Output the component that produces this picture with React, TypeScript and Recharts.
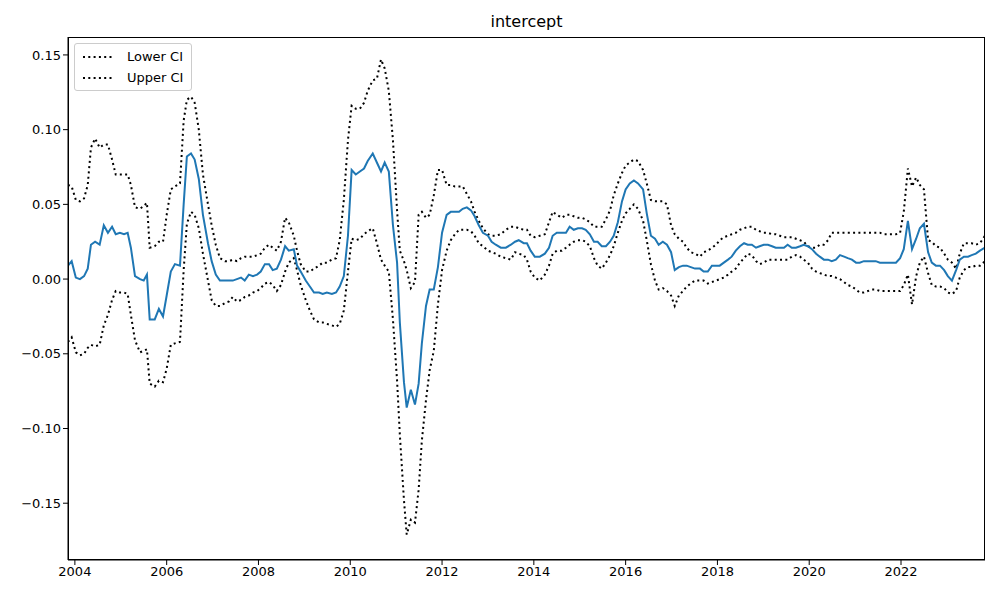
import { LineChart, Line, XAxis, YAxis } from 'recharts';

const dates = [
  2003.85, 2003.93, 2004.02, 2004.11, 2004.2, 2004.28, 2004.35, 2004.44, 2004.54, 2004.63,
  2004.72, 2004.81, 2004.89, 2004.98, 2005.07, 2005.15, 2005.22, 2005.31, 2005.42, 2005.5,
  2005.57, 2005.63, 2005.74, 2005.83, 2005.92, 2006.0, 2006.09, 2006.18, 2006.29, 2006.37,
  2006.44, 2006.53, 2006.61, 2006.7, 2006.79, 2006.9, 2006.98, 2007.07, 2007.16, 2007.27,
  2007.36, 2007.44, 2007.53, 2007.62, 2007.7, 2007.79, 2007.88, 2007.97, 2008.05, 2008.14,
  2008.23, 2008.31, 2008.4, 2008.49, 2008.58, 2008.66, 2008.77, 2008.84, 2008.92, 2009.03,
  2009.12, 2009.21, 2009.32, 2009.4, 2009.49, 2009.6, 2009.69, 2009.77, 2009.86, 2009.95,
  2010.03, 2010.12, 2010.21, 2010.3, 2010.38, 2010.49, 2010.58, 2010.67, 2010.75, 2010.84,
  2010.93, 2011.02, 2011.08, 2011.17, 2011.23, 2011.32, 2011.41, 2011.49, 2011.56, 2011.65,
  2011.73, 2011.82, 2011.91, 2012.0, 2012.1, 2012.19, 2012.28, 2012.37, 2012.45, 2012.54,
  2012.63, 2012.71, 2012.8, 2012.89, 2013.0, 2013.08, 2013.17, 2013.28, 2013.39, 2013.5,
  2013.59, 2013.67, 2013.78, 2013.85, 2013.93, 2014.02, 2014.13, 2014.24, 2014.33, 2014.41,
  2014.5, 2014.61, 2014.7, 2014.78, 2014.87, 2014.96, 2015.05, 2015.13, 2015.22, 2015.31,
  2015.39, 2015.48, 2015.57, 2015.66, 2015.74, 2015.83, 2015.92, 2016.0, 2016.09, 2016.18,
  2016.27, 2016.38, 2016.46, 2016.55, 2016.64, 2016.72, 2016.81, 2016.9, 2016.99, 2017.07,
  2017.16, 2017.25, 2017.33, 2017.42, 2017.51, 2017.62, 2017.7, 2017.79, 2017.88, 2017.97,
  2018.05, 2018.14, 2018.23, 2018.31, 2018.4, 2018.49, 2018.58, 2018.66, 2018.75, 2018.84,
  2018.92, 2019.01, 2019.1, 2019.19, 2019.27, 2019.36, 2019.45, 2019.53, 2019.62, 2019.71,
  2019.8, 2019.88, 2019.97, 2020.06, 2020.15, 2020.23, 2020.32, 2020.41, 2020.49, 2020.58,
  2020.67, 2020.76, 2020.84, 2020.93, 2021.02, 2021.1, 2021.19, 2021.28, 2021.37, 2021.45,
  2021.54, 2021.63, 2021.71, 2021.8, 2021.89, 2021.98, 2022.06, 2022.15, 2022.24, 2022.33,
  2022.41, 2022.5, 2022.59, 2022.67, 2022.76, 2022.85, 2022.94, 2023.02, 2023.11, 2023.2,
  2023.28, 2023.37, 2023.46, 2023.54, 2023.63, 2023.72, 2023.83,
];

const estimate = [
  0.009, 0.012, 0.001, 0, 0.002, 0.007, 0.023, 0.025, 0.023, 0.036,
  0.031, 0.035, 0.03, 0.031, 0.03, 0.031, 0.021, 0.002, 0, -0.001,
  0.003, -0.027, -0.027, -0.02, -0.025, -0.011, 0.005, 0.01, 0.009, 0.05,
  0.082, 0.084, 0.08, 0.067, 0.043, 0.024, 0.012, 0.003, -0.001, -0.001,
  -0.001, -0.001, 0, 0.001, -0.001, 0.003, 0.002, 0.003, 0.005, 0.01,
  0.01, 0.006, 0.007, 0.013, 0.022, 0.019, 0.02, 0.009, 0.005, -0.001,
  -0.005, -0.009, -0.009, -0.01, -0.009, -0.01, -0.009, -0.005, 0.002, 0.029,
  0.073, 0.07, 0.072, 0.074, 0.079, 0.084, 0.078, 0.072, 0.078, 0.072,
  0.036, 0.011, -0.029, -0.069, -0.086, -0.074, -0.084, -0.07, -0.043, -0.018,
  -0.007, -0.007, 0.008, 0.031, 0.043, 0.045, 0.045, 0.045, 0.047, 0.048,
  0.046, 0.042, 0.036, 0.031, 0.029, 0.025, 0.023, 0.021, 0.021, 0.023,
  0.025, 0.026, 0.024, 0.024, 0.019, 0.015, 0.015, 0.017, 0.021, 0.029,
  0.031, 0.031, 0.031, 0.035, 0.033, 0.034, 0.034, 0.033, 0.03, 0.025,
  0.025, 0.022, 0.022, 0.025, 0.029, 0.038, 0.052, 0.06, 0.064, 0.066,
  0.064, 0.06, 0.044, 0.029, 0.027, 0.023, 0.025, 0.023, 0.018, 0.006,
  0.008, 0.009, 0.009, 0.008, 0.007, 0.007, 0.005, 0.005, 0.009, 0.009,
  0.009, 0.011, 0.013, 0.015, 0.019, 0.022, 0.024, 0.023, 0.023, 0.021,
  0.022, 0.023, 0.023, 0.022, 0.021, 0.021, 0.021, 0.023, 0.021, 0.021,
  0.022, 0.023, 0.022, 0.02, 0.017, 0.015, 0.013, 0.013, 0.012, 0.013,
  0.016, 0.015, 0.014, 0.013, 0.011, 0.011, 0.012, 0.012, 0.012, 0.012,
  0.011, 0.011, 0.011, 0.011, 0.011, 0.014, 0.02, 0.039, 0.02, 0.027,
  0.034, 0.037, 0.018, 0.011, 0.009, 0.009, 0.006, 0.002, -0.001, 0.006,
  0.013, 0.015, 0.015, 0.016, 0.017, 0.019, 0.021,
];

const upperCI = [
  0.063, 0.062, 0.053, 0.052, 0.054, 0.063, 0.088, 0.094, 0.088, 0.09,
  0.09, 0.08, 0.07, 0.07, 0.07, 0.07, 0.063, 0.048, 0.047, 0.049,
  0.051, 0.021, 0.022, 0.025, 0.025, 0.043, 0.06, 0.062, 0.064, 0.106,
  0.12, 0.122, 0.118, 0.1, 0.07, 0.05, 0.036, 0.023, 0.014, 0.012,
  0.012, 0.013, 0.012, 0.014, 0.015, 0.015, 0.015, 0.016, 0.017, 0.021,
  0.023, 0.021, 0.019, 0.025, 0.041, 0.038, 0.029, 0.019, 0.01, 0.005,
  0.005, 0.007, 0.009, 0.011, 0.011, 0.013, 0.014, 0.026, 0.053, 0.093,
  0.116, 0.114, 0.114, 0.118, 0.126, 0.133, 0.134, 0.147, 0.141, 0.126,
  0.093, 0.046, 0.019, 0.012, 0.006, -0.006, -0.002, 0.043, 0.045, 0.041,
  0.043, 0.056, 0.073, 0.073, 0.063, 0.063, 0.062, 0.062, 0.062, 0.057,
  0.052, 0.045, 0.039, 0.034, 0.03, 0.029, 0.029, 0.03, 0.033, 0.035,
  0.035, 0.034, 0.033, 0.033, 0.029, 0.028, 0.029, 0.03, 0.038, 0.045,
  0.043, 0.041, 0.043, 0.043, 0.042, 0.041, 0.041, 0.04, 0.038, 0.035,
  0.035, 0.035, 0.04, 0.046, 0.056, 0.064, 0.071, 0.076, 0.078, 0.08,
  0.079, 0.073, 0.064, 0.053, 0.052, 0.052, 0.052, 0.05, 0.036, 0.03,
  0.027, 0.025, 0.021, 0.018, 0.017, 0.015, 0.018, 0.019, 0.021, 0.023,
  0.026, 0.028, 0.029, 0.03, 0.031, 0.033, 0.034, 0.035, 0.035, 0.033,
  0.032, 0.031, 0.031, 0.03, 0.03, 0.029, 0.028, 0.028, 0.028, 0.027,
  0.026, 0.025, 0.022, 0.021, 0.021, 0.023, 0.023, 0.026, 0.031, 0.031,
  0.031, 0.031, 0.031, 0.031, 0.031, 0.031, 0.031, 0.031, 0.031, 0.031,
  0.031, 0.03, 0.03, 0.03, 0.03, 0.031, 0.045, 0.074, 0.062, 0.068,
  0.063, 0.06, 0.026, 0.025, 0.022, 0.021, 0.017, 0.013, 0.011, 0.007,
  0.017, 0.024, 0.024, 0.024, 0.023, 0.024, 0.029,
];

const lowerCI = [
  -0.042, -0.039, -0.049, -0.051, -0.05, -0.046, -0.044, -0.045, -0.044, -0.031,
  -0.024, -0.014, -0.008, -0.009, -0.009, -0.01, -0.024, -0.041, -0.049, -0.048,
  -0.047, -0.07, -0.072, -0.068, -0.069, -0.06, -0.044, -0.043, -0.042, 0.006,
  0.037, 0.045, 0.043, 0.034, 0.017, -0.001, -0.014, -0.018, -0.018, -0.016,
  -0.015, -0.012, -0.015, -0.014, -0.012, -0.011, -0.009, -0.008, -0.006, -0.003,
  -0.002, -0.004, -0.008, -0.004, 0.005, 0.011, 0.014, 0.006, -0.004, -0.014,
  -0.021, -0.027, -0.029, -0.029, -0.03, -0.031, -0.032, -0.03, -0.021, 0.005,
  0.027, 0.026, 0.027, 0.03, 0.032, 0.034, 0.024, 0.013, 0.009, 0.005,
  -0.027, -0.068, -0.104, -0.148, -0.171, -0.161, -0.163, -0.141, -0.108, -0.081,
  -0.061, -0.048, -0.017, 0.006, 0.019, 0.026, 0.03, 0.033, 0.033, 0.033,
  0.032, 0.029, 0.024, 0.022, 0.019, 0.018, 0.017, 0.015, 0.014, 0.013,
  0.018, 0.017, 0.016, 0.013, 0.005, 0.001, -0.001, 0.003, 0.009, 0.017,
  0.019, 0.019, 0.021, 0.023, 0.025, 0.026, 0.026, 0.025, 0.022, 0.014,
  0.009, 0.007, 0.011, 0.016, 0.022, 0.031, 0.039, 0.044, 0.047, 0.05,
  0.047, 0.039, 0.026, 0.01, -0.001, -0.007, -0.006, -0.008, -0.011, -0.018,
  -0.011, -0.008, -0.005, -0.003, -0.001, -0.001, -0.001, -0.003, -0.002, -0.001,
  0, 0.001, 0.003, 0.005, 0.007, 0.011, 0.014, 0.017, 0.016, 0.012,
  0.01, 0.011, 0.013, 0.013, 0.013, 0.013, 0.013, 0.013, 0.015, 0.016,
  0.015, 0.013, 0.011, 0.007, 0.005, 0.004, 0.003, 0.002, 0.002, 0.001,
  0, -0.002, -0.004, -0.005, -0.007, -0.009, -0.009, -0.008, -0.007, -0.007,
  -0.008, -0.008, -0.008, -0.008, -0.008, -0.008, -0.004, 0.003, -0.017, 0.002,
  0.011, 0.015, 0.004, -0.004, -0.005, -0.005, -0.006, -0.009, -0.01, -0.008,
  0.001, 0.006, 0.008, 0.008, 0.009, 0.009, 0.012,
];

const xTicks = [2004, 2006, 2008, 2010, 2012, 2014, 2016, 2018, 2020, 2022];
const yTicks = [-0.15, -0.1, -0.05, 0, 0.05, 0.1, 0.15];

const data = dates.map((t, i) => ({
  t,
  est: estimate[i],
  upper: upperCI[i],
  lower: lowerCI[i],
}));

const font = 'DejaVu Sans, sans-serif';
const tickStyle = { fill: '#000', fontSize: 13, fontFamily: font };
const dotted = '2 3.3';

const fmtY = (v: number) => (v < 0 ? '\u2212' + Math.abs(v).toFixed(2) : v.toFixed(2));

const LegendBox = () => (
  <div
    style={{
      position: 'absolute',
      left: 74,
      top: 43,
      border: '1px solid #ccc',
      borderRadius: 3,
      background: 'rgba(255,255,255,0.8)',
      padding: '2px 8px',
      fontFamily: font,
      fontSize: 13,
      lineHeight: '21px',
    }}
  >
    {['Lower CI', 'Upper CI'].map((name) => (
      <div key={name} style={{ display: 'flex', alignItems: 'center' }}>
        <svg width={30} height={10} style={{ marginRight: 14 }}>
          <line x1={0} y1={5} x2={30} y2={5} stroke="#000" strokeWidth={2} strokeDasharray={dotted} />
        </svg>
        <span>{name}</span>
      </div>
    ))}
  </div>
);

export default function App() {
  return (
    <div style={{ position: 'absolute', left: 0, top: 0, width: 1000, height: 600, background: '#fff' }}>
      <div
        style={{
          position: 'absolute',
          top: 12,
          left: 68,
          width: 917,
          textAlign: 'center',
          fontFamily: font,
          fontSize: 16,
        }}
      >
        intercept
      </div>
      <LineChart width={1000} height={600} data={data} margin={{ top: 37, right: 15, bottom: 10, left: 8 }}>
        <XAxis
          dataKey="t"
          type="number"
          domain={[2003.85, 2023.83]}
          ticks={xTicks}
          allowDataOverflow
          tick={tickStyle}
          tickLine={{ stroke: '#000' }}
          axisLine={{ stroke: '#000' }}
          tickSize={5}
          height={30}
        />
        <YAxis
          type="number"
          domain={[-0.188, 0.162]}
          ticks={yTicks}
          allowDataOverflow
          tickFormatter={fmtY}
          tick={tickStyle}
          tickLine={{ stroke: '#000' }}
          axisLine={{ stroke: '#000' }}
          tickSize={5}
          width={60}
        />
        <Line dataKey="lower" name="Lower CI" stroke="#000" strokeWidth={2} strokeDasharray={dotted} dot={false} isAnimationActive={false} />
        <Line dataKey="upper" name="Upper CI" stroke="#000" strokeWidth={2} strokeDasharray={dotted} dot={false} isAnimationActive={false} />
        <Line dataKey="est" stroke="#1f77b4" strokeWidth={2} dot={false} isAnimationActive={false} />
      </LineChart>
      <div
        style={{
          position: 'absolute',
          left: 68,
          top: 37,
          width: 917,
          height: 523,
          border: '1px solid #000',
          boxSizing: 'border-box',
          pointerEvents: 'none',
        }}
      />
      <LegendBox />
    </div>
  );
}
